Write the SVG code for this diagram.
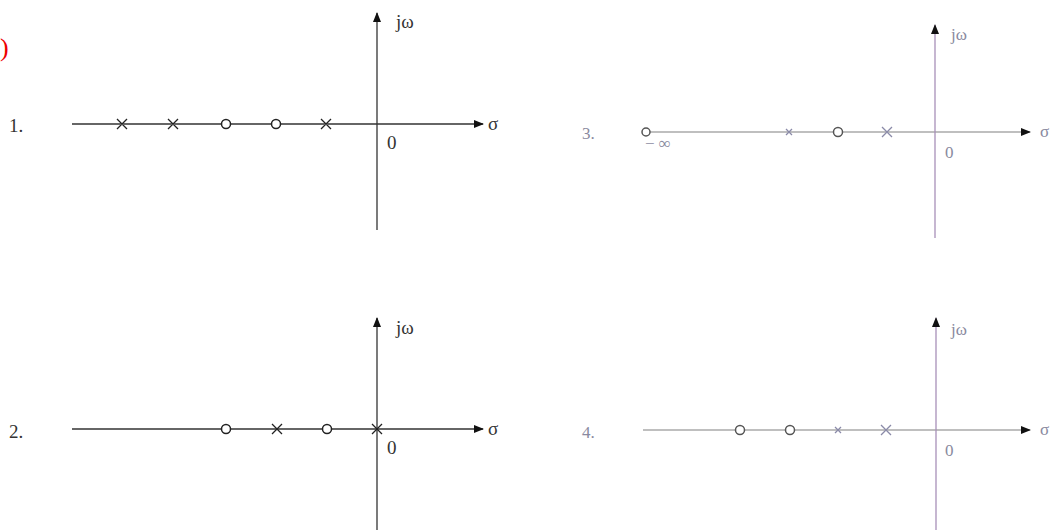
<svg xmlns="http://www.w3.org/2000/svg" width="1053" height="530" viewBox="0 0 1053 530">
<defs>
<style>
.ax{stroke:#333;stroke-width:1.3;fill:none}
.axl{stroke:#aaa;stroke-width:1.3;fill:none}
.axv{stroke:#a890b8;stroke-width:1.3;fill:none}
.z{stroke:#222;stroke-width:1.5;fill:#fff}
.zl{stroke:#555;stroke-width:1.5;fill:#fff}
.p{stroke:#222;stroke-width:1.3}
.pl{stroke:#8a8aa8;stroke-width:1.3}
.t{font-family:"Liberation Serif",serif;fill:#333;font-size:19px}
.tl{font-family:"Liberation Serif",serif;fill:#8a8aa0;font-size:17px}
</style>
<marker id="ah" viewBox="0 0 10 10" refX="9" refY="5" markerWidth="10" markerHeight="10" markerUnits="userSpaceOnUse" orient="auto">
<path d="M0,1 L10,5 L0,9 Z" fill="#111"/>
</marker>
</defs>
<text x="0" y="56" font-family="Liberation Serif,serif" font-size="26" fill="#e00">)</text>
<g id="connectors">
<line class="ax" x1="72" y1="124" x2="483" y2="124" marker-end="url(#ah)"/>
<line class="ax" x1="377" y1="230" x2="377" y2="13" marker-end="url(#ah)"/>
<line class="ax" x1="72" y1="429" x2="483" y2="429" marker-end="url(#ah)"/>
<line class="ax" x1="377" y1="530" x2="377" y2="318" marker-end="url(#ah)"/>
<line class="axl" x1="649" y1="132" x2="1030" y2="132" marker-end="url(#ah)"/>
<line class="axv" x1="935" y1="238" x2="935" y2="25" marker-end="url(#ah)"/>
<line class="axl" x1="643" y1="430" x2="1030" y2="430" marker-end="url(#ah)"/>
<line class="axv" x1="936" y1="530" x2="936" y2="318" marker-end="url(#ah)"/>
</g>
<g id="plot1">
<text class="t" x="9" y="132">1.</text>
<path class="p" d="M117,119 l10,10 m0,-10 l-10,10 M168,119 l10,10 m0,-10 l-10,10 M321,119 l10,10 m0,-10 l-10,10"/>
<circle class="z" cx="226" cy="124" r="4.5"/>
<circle class="z" cx="276" cy="124" r="4.5"/>
<text class="t" x="387" y="149">0</text>
<text class="t" x="488" y="130">σ</text>
<text class="t" x="396" y="28">jω</text>
</g>
<g id="plot2">
<text class="t" x="9" y="438">2.</text>
<circle class="z" cx="226" cy="429" r="4.5"/>
<circle class="z" cx="327" cy="429" r="4.5"/>
<path class="p" d="M272,424 l10,10 m0,-10 l-10,10 M372,424 l10,10 m0,-10 l-10,10"/>
<text class="t" x="387" y="454">0</text>
<text class="t" x="488" y="435">σ</text>
<text class="t" x="396" y="334">jω</text>
</g>
<g id="plot3">
<text class="tl" x="582" y="139">3.</text>
<circle class="zl" cx="646" cy="132" r="4"/>
<path class="pl" d="M786,129 l6,6 m0,-6 l-6,6 M882,127 l10,10 m0,-10 l-10,10"/>
<circle class="zl" cx="838" cy="132" r="4.5"/>
<text class="tl" x="645" y="149" font-size="12">− ∞</text>
<text class="tl" x="945" y="158">0</text>
<text class="tl" x="1040" y="137">σ</text>
<text class="tl" x="951" y="40">jω</text>
</g>
<g id="plot4">
<text class="tl" x="582" y="438">4.</text>
<circle class="zl" cx="740" cy="430" r="4.5"/>
<circle class="zl" cx="790" cy="430" r="4.5"/>
<path class="pl" d="M835,427 l6,6 m0,-6 l-6,6 M881,425 l10,10 m0,-10 l-10,10"/>
<text class="tl" x="945" y="456">0</text>
<text class="tl" x="1040" y="435">σ</text>
<text class="tl" x="951" y="335">jω</text>
</g>
</svg>
